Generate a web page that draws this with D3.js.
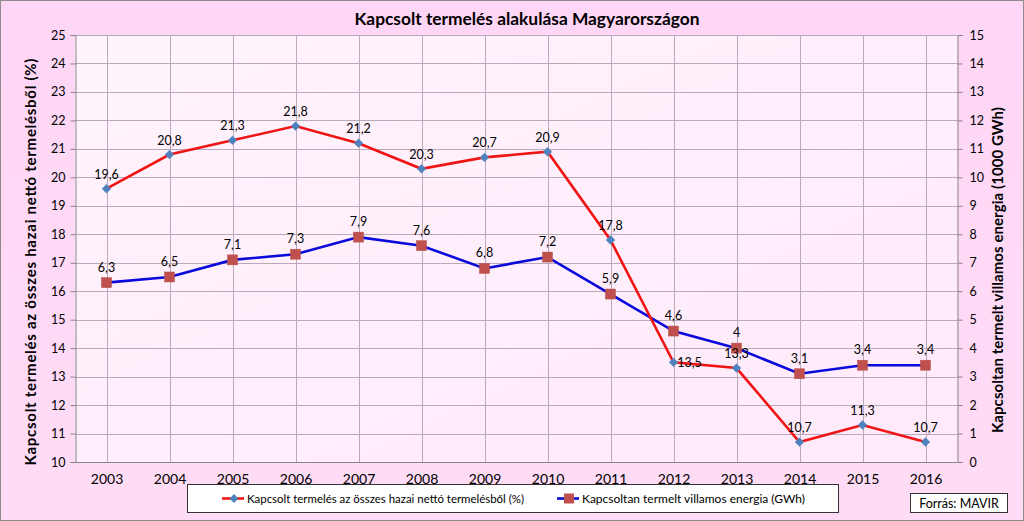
<!DOCTYPE html>
<html><head><meta charset="utf-8">
<script src="https://cdn.jsdelivr.net/npm/d3@7"></script>
<style>
html,body{margin:0;padding:0;background:#fff;}
svg{display:block;font-family:Lato,"Open Sans",sans-serif;}
</style></head><body>
<svg id="c" width="1024" height="521"></svg>
<script>
const years = ["2003","2004","2005","2006","2007","2008","2009","2010","2011","2012","2013","2014","2015","2016"];
const pctValues = [19.6,20.8,21.3,21.8,21.2,20.3,20.7,20.9,17.8,13.5,13.3,10.7,11.3,10.7];
const gwhValues = [6.3,6.5,7.1,7.3,7.9,7.6,6.8,7.2,5.9,4.6,4.0,3.1,3.4,3.4];
const pctLabels = ["19,6","20,8","21,3","21,8","21,2","20,3","20,7","20,9","17,8","13,5","13,3","10,7","11,3","10,7"];
const gwhLabels = ["6,3","6,5","7,1","7,3","7,9","7,6","6,8","7,2","5,9","4,6","4","3,1","3,4","3,4"];
const leftTicks = [10,11,12,13,14,15,16,17,18,19,20,21,22,23,24,25];
const rightTicks = [0,1,2,3,4,5,6,7,8,9,10,11,12,13,14,15];
const title = "Kapcsolt termelés alakulása Magyarországon";
const leftTitle = "Kapcsolt termelés az összes hazai nettó termelésből (%)";
const rightTitle = "Kapcsoltan termelt villamos energia (1000 GWh)";
const seriesNames = ["Kapcsolt termelés az összes hazai nettó termelésből (%)","Kapcsoltan termelt villamos energia (GWh)"];
const source = "Forrás: MAVIR";

const svg = d3.select("#c");
const L = 75, R = 957, T = 35, B = 462;

const defs = svg.append("defs");
const g1 = defs.append("linearGradient").attr("id","bg").attr("x1",0).attr("y1",0).attr("x2",0).attr("y2",1);
g1.append("stop").attr("offset",0).attr("stop-color","#ffd6f6");
g1.append("stop").attr("offset",1).attr("stop-color","#ffdcf6");
const g2 = defs.append("linearGradient").attr("id","pa").attr("x1",0).attr("y1",0).attr("x2",1).attr("y2",1);
g2.append("stop").attr("offset",0).attr("stop-color","#fff4fd");
g2.append("stop").attr("offset",1).attr("stop-color","#ffe9fa");

svg.append("rect").attr("x",0.5).attr("y",0.5).attr("width",1023).attr("height",520)
  .attr("fill","url(#bg)").attr("stroke","#8c8c8c");
svg.append("rect").attr("x",L).attr("y",T).attr("width",R-L).attr("height",B-T).attr("fill","url(#pa)");

const x = d3.scalePoint().domain(years).range([L,R]).padding(0.5);
const yL = d3.scaleLinear().domain([10,25]).range([B,T]);
const yR = d3.scaleLinear().domain([0,15]).range([B,T]);

// gridlines
const grid = svg.append("g").attr("stroke","#b9a9b9").attr("stroke-width",1);
leftTicks.forEach(t=>{ grid.append("line").attr("x1",L).attr("x2",R).attr("y1",Math.round(yL(t))+0.5).attr("y2",Math.round(yL(t))+0.5); });
years.forEach(y=>{ grid.append("line").attr("y1",T).attr("y2",B).attr("x1",Math.round(x(y))+0.5).attr("x2",Math.round(x(y))+0.5); });

// axes
const axL = svg.append("g").attr("transform",`translate(${L+0.5},0)`)
  .call(d3.axisLeft(yL).tickValues(leftTicks).tickSize(5).tickPadding(5).tickFormat(d=>d));
const axR = svg.append("g").attr("transform",`translate(${R+0.5},0)`)
  .call(d3.axisRight(yR).tickValues(rightTicks).tickSize(5).tickPadding(7).tickFormat(d=>d));
const axB = svg.append("g").attr("transform",`translate(0,${B+0.5})`)
  .call(d3.axisBottom(x).tickSize(0).tickPadding(12));
[axL,axR,axB].forEach(a=>{
  a.selectAll("path").attr("stroke","#868686");
  a.selectAll("line").attr("stroke","#868686");
  a.selectAll("text").attr("font-family","Lato,sans-serif").attr("fill","#000");
});
axL.selectAll("text").attr("font-size",12.5);
axR.selectAll("text").attr("font-size",12.5);
axB.selectAll("text").attr("font-size",14);
axB.select("path").attr("d",`M${L},0H${R}`);

// lines
const lineL = d3.line().x((d,i)=>x(years[i])).y(d=>yL(d));
const lineR = d3.line().x((d,i)=>x(years[i])).y(d=>yR(d));
svg.append("path").attr("d",lineR(gwhValues)).attr("fill","none").attr("stroke","#0a0adc").attr("stroke-width",2.6);
svg.append("path").attr("d",lineL(pctValues)).attr("fill","none").attr("stroke","#f01414").attr("stroke-width",2.6);

// markers
const dsym = d3.symbol().type(d3.symbolDiamond2).size(50);
svg.selectAll(".dm").data(pctValues).enter().append("path")
  .attr("transform",(d,i)=>`translate(${x(years[i])},${yL(d)})`)
  .attr("d",dsym()).attr("fill","#4f81bd").attr("stroke","#5b8ecb").attr("stroke-width",0.5);
svg.selectAll(".sq").data(gwhValues).enter().append("rect")
  .attr("x",(d,i)=>x(years[i])-5).attr("y",d=>yR(d)-5).attr("width",10).attr("height",10)
  .attr("fill","#c0504d").attr("stroke","#b8504a").attr("stroke-width",0.5);

// labels
const lblFont = 12.5;
svg.selectAll(".lp").data(pctValues).enter().append("text")
  .attr("x",(d,i)=>x(years[i]) + (i===9?16:0)).attr("y",(d,i)=>yL(d) + (i===9?5:-10))
  .attr("text-anchor","middle").attr("font-size",lblFont).attr("fill","#000")
  .text((d,i)=>pctLabels[i]);
svg.selectAll(".lr").data(gwhValues).enter().append("text")
  .attr("x",(d,i)=>x(years[i])).attr("y",d=>yR(d)-11)
  .attr("text-anchor","middle").attr("font-size",lblFont).attr("fill","#000")
  .text((d,i)=>gwhLabels[i]);

// titles
svg.append("text").attr("x",527).attr("y",25).attr("text-anchor","middle")
  .attr("font-size",17).attr("font-weight","bold").attr("textLength",345).attr("lengthAdjust","spacingAndGlyphs").text(title);
svg.append("text").attr("transform","translate(36,262) rotate(-90)").attr("text-anchor","middle")
  .attr("font-size",15).attr("font-weight","bold").attr("textLength",407).attr("lengthAdjust","spacing").text(leftTitle);
svg.append("text").attr("transform","translate(1003,270) rotate(-90)").attr("text-anchor","middle")
  .attr("font-size",15).attr("font-weight","bold").attr("textLength",326).attr("lengthAdjust","spacing").text(rightTitle);

// legend
const lg = svg.append("g");
lg.append("rect").attr("x",187.5).attr("y",484.5).attr("width",651).attr("height",28).attr("fill","#fff").attr("stroke","#333");
function legItem(x0, color, marker, text){
  lg.append("line").attr("x1",x0).attr("x2",x0+22).attr("y1",498.5).attr("y2",498.5).attr("stroke",color).attr("stroke-width",2.6);
  if(marker==="d"){
    lg.append("path").attr("transform",`translate(${x0+12},498.5)`).attr("d",dsym()).attr("fill","#4f81bd");
  } else {
    lg.append("rect").attr("x",x0+7).attr("y",493.5).attr("width",10).attr("height",10).attr("fill","#c0504d");
  }
  lg.append("text").attr("x",x0+25).attr("y",502.5).attr("font-size",12).attr("textLength",seriesNames.indexOf(text)===0?277:223).attr("lengthAdjust","spacingAndGlyphs").text(text);
}
legItem(222,"#f01414","d",seriesNames[0]);
legItem(557,"#0a0adc","s",seriesNames[1]);

svg.append("rect").attr("x",910.5).attr("y",493.5).attr("width",97).attr("height",19).attr("fill","#fff").attr("stroke","#333");
svg.append("text").attr("x",959).attr("y",507.5).attr("text-anchor","middle").attr("font-size",12.5).text(source);
</script>
</body></html>
